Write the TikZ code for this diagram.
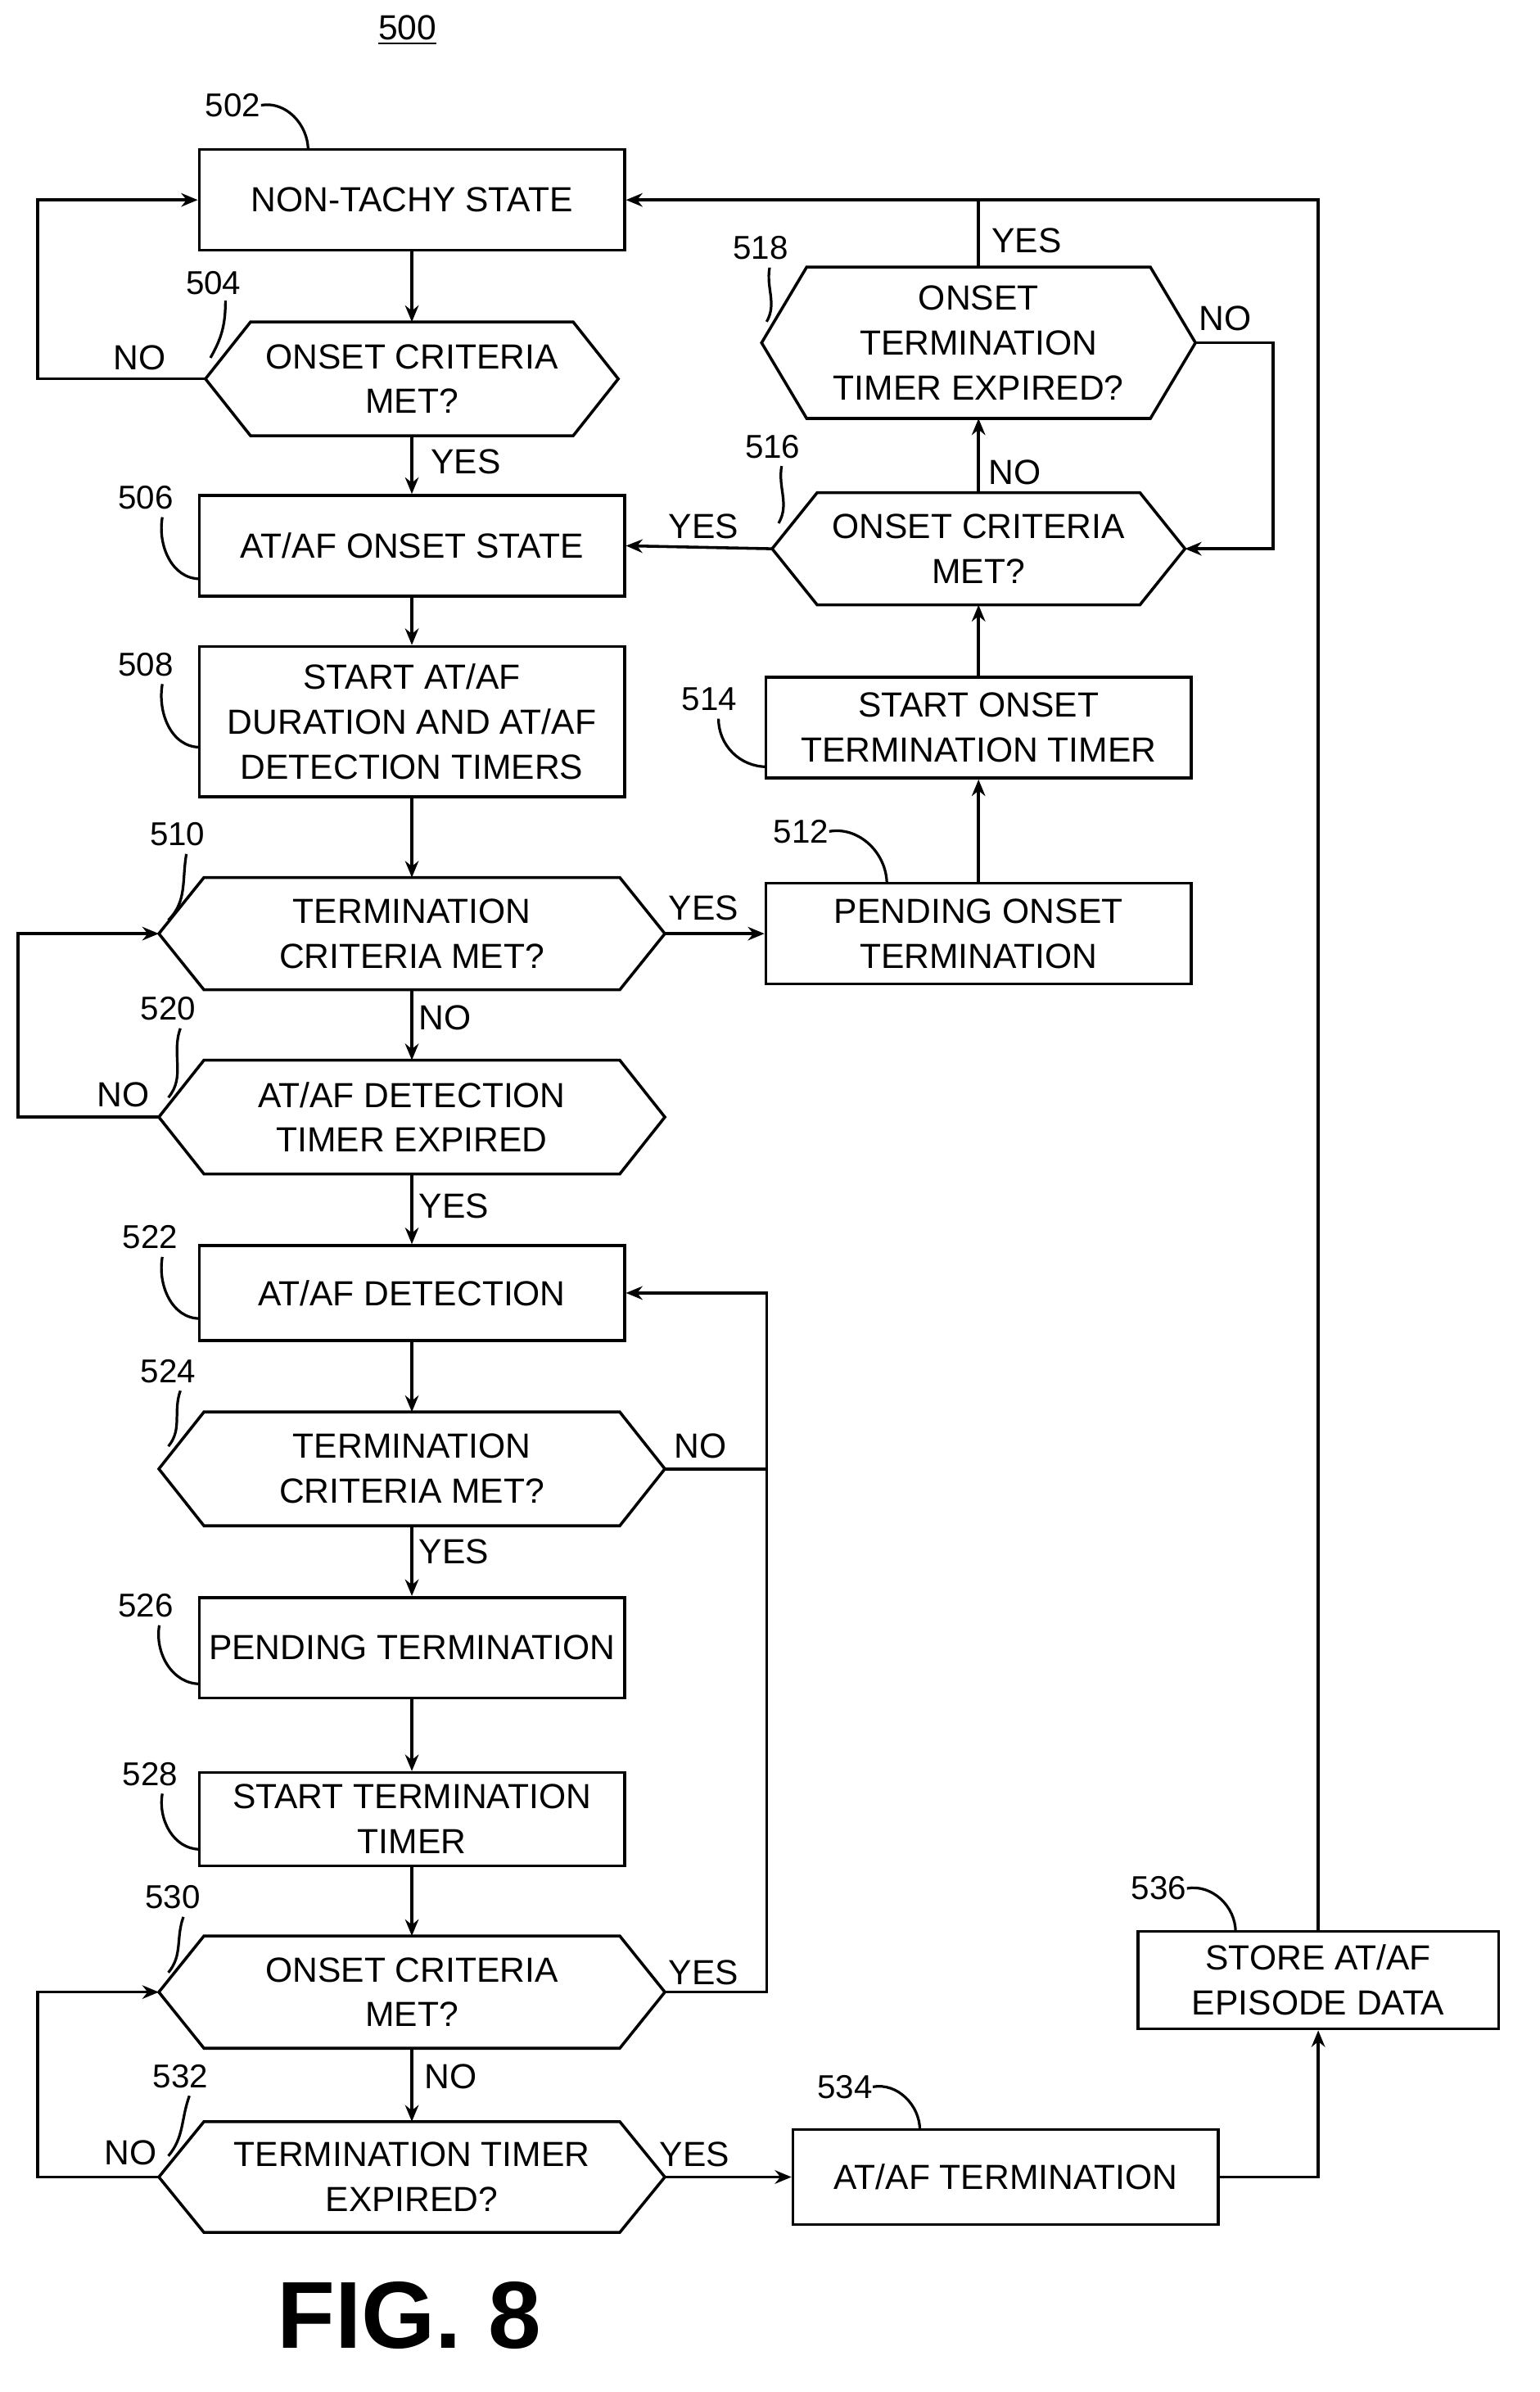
\documentclass[tikz,border=0pt]{standalone}
\usepackage{fontspec}
\setmainfont{Liberation Sans}
\usetikzlibrary{calc,arrows.meta}
\newcommand\hexa[2]{\draw[line width=1.1pt] (#1.west) -- ($(#1.north west)+(#2,0)$) -- ($(#1.north east)+(-#2,0)$) -- (#1.east) -- ($(#1.south east)+(-#2,0)$) -- ($(#1.south west)+(#2,0)$) -- cycle;}
\begin{document}
\begin{tikzpicture}[x=0.02cm,y=-0.02cm,
  every node/.style={font=\fontsize{13.2}{17}\selectfont, align=center, inner sep=0pt},
  box/.style={draw, line width=1.1pt, minimum width=5.66cm, minimum height=1.34cm},
  hx/.style={minimum width=6.72cm, minimum height=1.48cm},
  arr/.style={line width=1.1pt, -{Stealth[length=2.2mm,width=1.8mm]}},
  ln/.style={line width=1.1pt},
  lead/.style={line width=1pt},
  lbl/.style={font=\fontsize{12.5}{14}\selectfont}]
\useasboundingbox (0,0) rectangle (1024,1591);
\node (t500) at (271,20) {\underline{500}};
\node[font=\fontsize{36}{38}\selectfont\bfseries] (fig) at (272,1540) {FIG. 8};
% left column
\node[box] (n502) at (274,133) {NON-TACHY STATE};
\node[minimum width=5.48cm, minimum height=1.5cm] (n504) at (274,252) {ONSET CRITERIA\\MET?};
\hexa{n504}{0.6cm}
\node[box] (n506) at (274,363) {AT/AF ONSET STATE};
\node[box, minimum height=2cm] (n508) at (274,480) {START AT/AF\\DURATION AND AT/AF\\DETECTION TIMERS};
\node[hx] (n510) at (274,621) {TERMINATION\\CRITERIA MET?};
\hexa{n510}{0.6cm}
\node[hx, minimum height=1.5cm] (n520) at (274,743) {AT/AF DETECTION\\TIMER EXPIRED};
\hexa{n520}{0.6cm}
\node[box, minimum height=1.26cm] (n522) at (274,860) {AT/AF DETECTION};
\node[hx, minimum height=1.5cm] (n524) at (274,977) {TERMINATION\\CRITERIA MET?};
\hexa{n524}{0.6cm}
\node[box] (n526) at (274,1096) {PENDING TERMINATION};
\node[box, minimum height=1.24cm] (n528) at (274,1210) {START TERMINATION\\TIMER};
\node[hx] (n530) at (274,1325) {ONSET CRITERIA\\MET?};
\hexa{n530}{0.6cm}
\node[hx, minimum height=1.46cm] (n532) at (274,1448) {TERMINATION TIMER\\EXPIRED?};
\hexa{n532}{0.6cm}
% right column
\node[box] (n512) at (651,621) {PENDING ONSET\\TERMINATION};
\node[box] (n514) at (651,484) {START ONSET\\TERMINATION TIMER};
\node[minimum width=5.48cm, minimum height=1.48cm] (n516) at (651,365) {ONSET CRITERIA\\MET?};
\hexa{n516}{0.6cm}
\node[minimum width=5.76cm, minimum height=2cm] (n518) at (651,228) {ONSET\\TERMINATION\\TIMER EXPIRED?};
\hexa{n518}{0.6cm}
\node[box, minimum height=1.26cm] (n534) at (669,1448) {AT/AF TERMINATION};
\node[draw, line width=1.1pt, minimum width=4.8cm, minimum height=1.3cm] (n536) at (877,1317) {STORE AT/AF\\EPISODE DATA};
% connectors
\draw[arr] (n502) -- (n504);
\draw[arr] (n504.west) -- (25,252) |- (n502.west);
\draw[arr] (n504) -- (n506);
\draw[arr] (n506) -- (n508);
\draw[arr] (n508) -- (n510);
\draw[arr] (n510.east) -- (n512.west);
\draw[arr] (n512) -- (n514);
\draw[arr] (n514) -- (n516);
\draw[arr] (n516) -- (n518);
\draw[arr] (n518.east) -- (847,228) |- (n516.east);
\draw[arr] (n516.west) -- (n506.east);
\draw[arr] (n510) -- (n520);
\draw[arr] (n520.west) -- (12,743) |- (n510.west);
\draw[arr] (n520) -- (n522);
\draw[arr] (n522) -- (n524);
\draw[arr] (n524.east) -- (510,977) |- (n522.east);
\draw[ln] (n530.east) -- (510,1325) -- (510,977);
\draw[arr] (n524) -- (n526);
\draw[arr] (n526) -- (n528);
\draw[arr] (n528) -- (n530);
\draw[arr] (n530) -- (n532);
\draw[arr] (n532.west) -- (25,1448) |- (n530.west);
\draw[arr] (n532.east) -- (n534.west);
\draw[arr] (n534.east) -| (n536.south);
\draw[arr] (n536.north) |- (n502.east);
\draw[ln] (n518.north) -- (651,133);
% labels
\node (y504) at (310,307) {YES};
\node (no504) at (93,238) {NO};
\node (y510) at (468,604) {YES};
\node (no516) at (675,314) {NO};
\node (y518) at (683,160) {YES};
\node (no518) at (815,212) {NO};
\node (y516) at (468,350) {YES};
\node (no510) at (296,677) {NO};
\node (no520) at (82,728) {NO};
\node (y520) at (302,802) {YES};
\node (no524) at (466,962) {NO};
\node (y524) at (302,1032) {YES};
\node (y530) at (468,1312) {YES};
\node (no530) at (300,1381) {NO};
\node (no532) at (87,1432) {NO};
\node (y532) at (462,1433) {YES};
% reference numerals
\node[lbl] (r502) at (155,70) {502};
\draw[lead] (r502.east) to[out=10,in=90] (205,100);
\node[lbl] (r504) at (142,188) {504};
\draw[lead] (150,200) to[out=-90,in=60] (140,238);
\node[lbl] (r506) at (97,331) {506};
\draw[lead] (108,344) to[out=-100,in=180] (133,385);
\node[lbl] (r508) at (97,442) {508};
\draw[lead] (108,455) to[out=-100,in=180] (133,497);
\node[lbl] (r510) at (118,555) {510};
\draw[lead] (124,568) to[out=-100,in=45] (112,612);
\node[lbl] (r520) at (112,671) {520};
\draw[lead] (120,684) to[out=-110,in=50] (112,730);
\node[lbl] (r522) at (100,823) {522};
\draw[lead] (108,836) to[out=-100,in=180] (133,877);
\node[lbl] (r524) at (112,912) {524};
\draw[lead] (120,925) to[out=-110,in=50] (112,962);
\node[lbl] (r526) at (97,1068) {526};
\draw[lead] (106,1081) to[out=-100,in=180] (133,1120);
\node[lbl] (r528) at (100,1180) {528};
\draw[lead] (108,1193) to[out=-100,in=180] (133,1230);
\node[lbl] (r530) at (115,1262) {530};
\draw[lead] (122,1275) to[out=-110,in=50] (112,1312);
\node[lbl] (r532) at (120,1381) {532};
\draw[lead] (126,1394) to[out=-110,in=50] (112,1434);
\node[lbl] (r534) at (562,1388) {534};
\draw[lead] (r534.east) to[out=10,in=90] (612,1417);
\node[lbl] (r536) at (771,1256) {536};
\draw[lead] (r536.east) to[out=10,in=90] (822,1285);
\node[lbl] (r512) at (533,553) {512};
\draw[lead] (r512.east) to[out=10,in=90] (590,588);
\node[lbl] (r514) at (472,465) {514};
\draw[lead] (478,478) to[out=-90,in=180] (510,510);
\node[lbl] (r516) at (514,297) {516};
\draw[lead] (520,310) to[out=-100,in=60] (518,348);
\node[lbl] (r518) at (506,165) {518};
\draw[lead] (512,178) to[out=-100,in=60] (510,214);
\end{tikzpicture}
\end{document}
